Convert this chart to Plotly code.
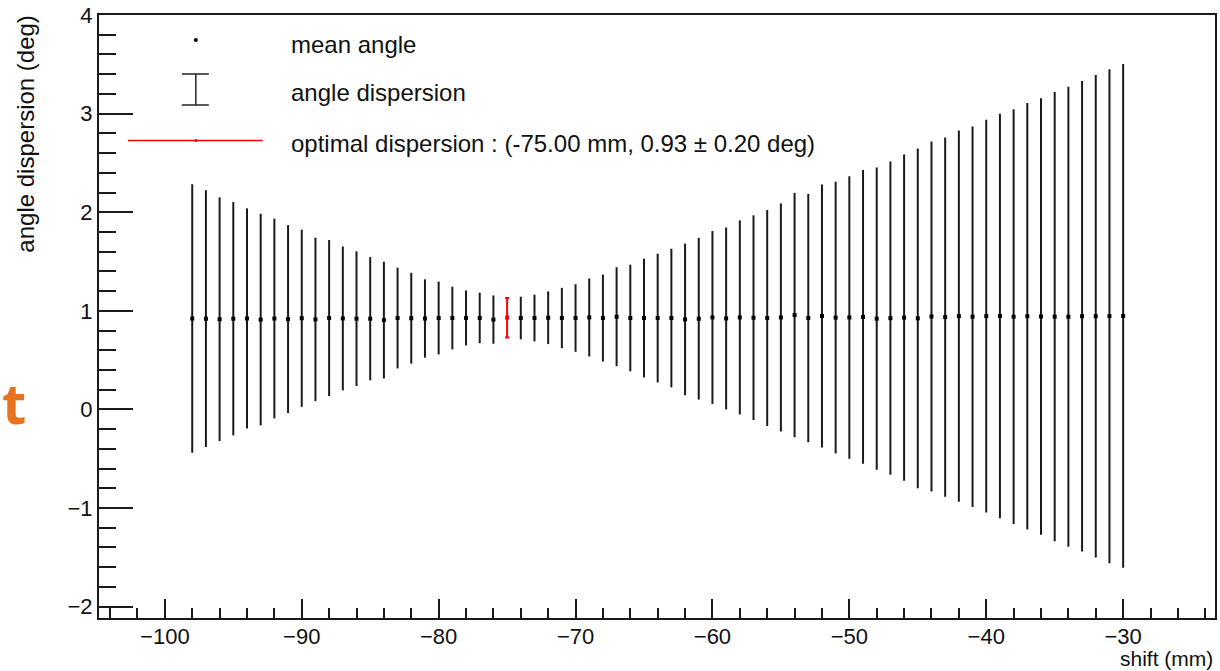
import plotly.graph_objects as go

# ---- data: shift scan of the angular dispersion -------------------------
shift_mm = [-98, -97, -96, -95, -94, -93, -92, -91, -90, -89, -88, -87, -86, -85,
            -84, -83, -82, -81, -80, -79, -78, -77, -76,
            -74, -73, -72, -71, -70, -69, -68, -67, -66, -65, -64, -63, -62, -61,
            -60, -59, -58, -57, -56, -55, -54, -53, -52,
            -51, -50, -49, -48, -47, -46, -45, -44, -43, -42, -41, -40, -39, -38,
            -37, -36, -35, -34, -33, -32, -31, -30]

mean_angle = [0.922, 0.920, 0.915, 0.920, 0.923, 0.911, 0.922, 0.916, 0.925, 0.913,
              0.927, 0.923, 0.920, 0.920, 0.906, 0.927, 0.925, 0.922, 0.927, 0.927,
              0.928, 0.928, 0.911,
              0.927, 0.927, 0.930, 0.927, 0.927, 0.933, 0.927, 0.940, 0.927, 0.927,
              0.927, 0.927, 0.913, 0.920, 0.933, 0.923, 0.933, 0.930, 0.927, 0.933,
              0.957, 0.927, 0.947,
              0.931, 0.933, 0.938, 0.921, 0.926, 0.931, 0.924, 0.943, 0.936, 0.946,
              0.940, 0.946, 0.948, 0.940, 0.945, 0.943, 0.941, 0.940, 0.945, 0.945,
              0.946, 0.948]

angle_dispersion = [1.361, 1.302, 1.236, 1.183, 1.116, 1.073, 1.013, 0.953, 0.898, 0.829,
                    0.791, 0.730, 0.683, 0.625, 0.592, 0.511, 0.461, 0.397, 0.369, 0.318,
                    0.279, 0.256, 0.245,
                    0.216, 0.237, 0.267, 0.306, 0.343, 0.396, 0.441, 0.502, 0.541, 0.602,
                    0.653, 0.703, 0.769, 0.820, 0.877, 0.923, 0.984, 1.038, 1.095, 1.156,
                    1.239, 1.259, 1.334,
                    1.377, 1.433, 1.489, 1.533, 1.589, 1.655, 1.723, 1.775, 1.822, 1.883,
                    1.930, 1.991, 2.051, 2.103, 2.162, 2.214, 2.277, 2.333, 2.385, 2.446,
                    2.505, 2.554]

opt_shift = [-75.0]
opt_mean = [0.93]
opt_dispersion = [0.20]

x_ticks = [-100, -90, -80, -70, -60, -50, -40, -30]
y_ticks = [-2, -1, 0, 1, 2, 3, 4]

# ---- frame geometry (pixels) -------------------------------------------
WIDTH, HEIGHT = 1220, 671
L, R, T, B = 99, 1217, 15, 618
PW, PH = R - L, B - T


def px_x(p):
    return (p - L) / PW


def px_y(p):
    return (B - p) / PH


FONT = "Liberation Sans, Arial, Helvetica, sans-serif"
INK = "#111111"
TEXT_SIZE = 24
TICK_SIZE = 22

fig = go.Figure()

fig.add_trace(go.Scatter(
    x=shift_mm, y=mean_angle, mode="markers",
    marker=dict(symbol="square", size=4, color="black", line=dict(width=0)),
    error_y=dict(type="data", array=angle_dispersion, symmetric=True,
                 thickness=2, width=0, color="#1a1a1a"),
    showlegend=False, name="mean angle",
))

fig.add_trace(go.Scatter(
    x=opt_shift, y=opt_mean, mode="markers",
    marker=dict(symbol="square", size=4, color="red", line=dict(width=0)),
    error_y=dict(type="data", array=opt_dispersion, symmetric=True,
                 thickness=2, width=2, color="red"),
    showlegend=False, name="optimal dispersion",
))

# ---- hand-drawn legend (ROOT style, no box) -----------------------------
shapes = [
    # mean angle: dot
    dict(type="circle", xref="paper", yref="paper",
         x0=px_x(194), x1=px_x(198), y0=px_y(42), y1=px_y(38),
         fillcolor="black", line=dict(width=0)),
    # angle dispersion: I-beam
    dict(type="line", xref="paper", yref="paper",
         x0=px_x(196), x1=px_x(196), y0=px_y(74), y1=px_y(105),
         line=dict(color="#222", width=1.5)),
    dict(type="line", xref="paper", yref="paper",
         x0=px_x(182), x1=px_x(209), y0=px_y(74), y1=px_y(74),
         line=dict(color="#222", width=1.5)),
    dict(type="line", xref="paper", yref="paper",
         x0=px_x(182), x1=px_x(209), y0=px_y(105), y1=px_y(105),
         line=dict(color="#222", width=1.5)),
    # optimal dispersion: red line with dot
    dict(type="line", xref="paper", yref="paper",
         x0=px_x(128), x1=px_x(263), y0=px_y(140.5), y1=px_y(140.5),
         line=dict(color="red", width=1.5)),
    dict(type="circle", xref="paper", yref="paper",
         x0=px_x(194.5), x1=px_x(197.5), y0=px_y(142), y1=px_y(139),
         fillcolor="red", line=dict(width=0)),
]

legend_labels = [
    ("mean angle", 44),
    ("angle dispersion", 93),
    ("optimal dispersion : ({:.2f} mm, {:.2f} \u00b1 {:.2f} deg)".format(
        opt_shift[0], opt_mean[0], opt_dispersion[0]), 143),
]

annotations = []
for text, yp in legend_labels:
    annotations.append(dict(
        text=text, xref="paper", yref="paper", x=px_x(289), y=px_y(yp),
        xanchor="left", yanchor="middle", showarrow=False,
        font=dict(family=FONT, size=TEXT_SIZE, color=INK)))

# axis titles, ROOT places them at the axis ends
annotations.append(dict(
    text="angle dispersion (deg)", xref="paper", yref="paper",
    x=px_x(25), y=px_y(14), xanchor="center", yanchor="top",
    textangle=-90, showarrow=False, font=dict(family=FONT, size=TEXT_SIZE, color=INK)))
annotations.append(dict(
    text="shift (mm)", xref="paper", yref="paper",
    x=px_x(1217), y=px_y(658.5), xanchor="right", yanchor="middle",
    showarrow=False, font=dict(family=FONT, size=21, color=INK)))

# slide lettering at the left border
annotations.append(dict(
    text="<b>t</b>", xref="paper", yref="paper",
    x=px_x(0), y=px_y(402), xanchor="left", yanchor="middle",
    showarrow=False, font=dict(family="Open Sans, sans-serif", size=56, color="#e8731f")))

fig.update_layout(
    width=WIDTH, height=HEIGHT,
    margin=dict(l=L, r=WIDTH - R, t=T, b=HEIGHT - B, pad=0),
    paper_bgcolor="white", plot_bgcolor="white",
    font=dict(family=FONT, size=TICK_SIZE, color=INK),
    shapes=shapes, annotations=annotations,
    showlegend=False,
)

fig.update_xaxes(
    range=[-104.81, -23.29], showgrid=False, zeroline=False,
    showline=True, linecolor="#1a1a1a", linewidth=2, mirror=True,
    tickmode="array", tickvals=x_ticks, ticktext=["\u2212" + str(-v) for v in x_ticks],
    ticks="inside", ticklen=19, tickwidth=1.5, tickcolor="#1a1a1a",
    ticklabelstandoff=-2,
    minor=dict(ticks="inside", dtick=2, tick0=-100, ticklen=10, tickwidth=1.5,
               tickcolor="#1a1a1a", showgrid=False),
    tickfont=dict(family=FONT, size=TICK_SIZE, color=INK),
)

fig.update_yaxes(
    range=[-2.115, 4.0], showgrid=False, zeroline=False,
    showline=True, linecolor="#1a1a1a", linewidth=2, mirror=True,
    tickmode="array", tickvals=y_ticks,
    ticktext=[("\u2212" + str(-v)) if v < 0 else str(v) for v in y_ticks],
    ticks="inside", ticklen=34, tickwidth=1.5, tickcolor="#1a1a1a",
    minor=dict(ticks="inside", dtick=0.2, tick0=0, ticklen=17, tickwidth=1.5,
               tickcolor="#1a1a1a", showgrid=False),
    tickfont=dict(family=FONT, size=TICK_SIZE, color=INK),
)

fig.write_html("out.html")
